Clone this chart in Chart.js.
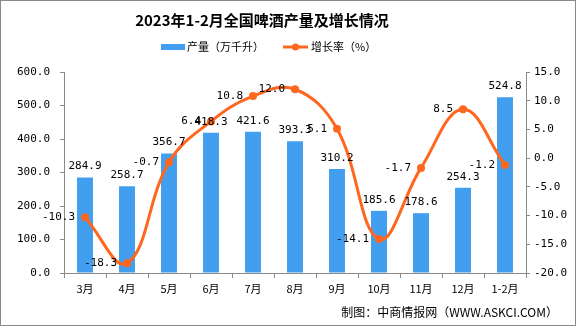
<!DOCTYPE html>
<html>
<head>
<meta charset="utf-8">
<script src="https://cdn.jsdelivr.net/npm/chart.js@4.4.0/dist/chart.umd.min.js"></script>
<style>
  html, body { margin: 0; padding: 0; background: #fff; }
  #wrap { width: 576px; height: 326px; }
</style>
</head>
<body>
<div id="wrap"><canvas id="myChart" width="576" height="326"></canvas></div>
<script>
'use strict';

// chart data
let months = ['3月', '4月', '5月', '6月', '7月', '8月', '9月', '10月', '11月', '12月', '1-2月'];
let output = [284.9, 258.7, 356.7, 418.3, 421.6, 393.3, 310.2, 185.6, 178.6, 254.3, 524.8]; // 万千升
let growth = [-10.3, -18.3, -0.7, 6.4, 10.8, 12.0, 5.1, -14.1, -1.7, 8.5, -1.2]; // %
let outputTicks = [0, 100, 200, 300, 400, 500, 600];
let growthTicks = [-20, -15, -10, -5, 0, 5, 10, 15];

let titleText = '2023年1-2月全国啤酒产量及增长情况';
let footerText = '制图：中商情报网（WWW.ASKCI.COM）';

// colours / fonts
let barBlue = '#429FEF';
let lineOrange = '#FF671F';
let axisGrey = '#8a8a8a';
let monoFont = '"DejaVu Sans Mono", monospace';
let cjkFont = '"Noto Sans CJK SC", sans-serif';

let ctx = document.getElementById('myChart').getContext('2d');

// numbers above bars and left of the line points
const valueLabels = {
  id: 'valueLabels',
  afterDatasetsDraw(chart) {
    let c = chart.ctx;
    c.save();
    c.font = '11px ' + monoFont;
    c.fillStyle = '#000';
    c.textBaseline = 'middle';

    c.textAlign = 'center';
    chart.getDatasetMeta(0).data.forEach((bar, i) => {
      c.fillText(output[i].toFixed(1), bar.x, bar.y - 11);
    });

    c.textAlign = 'right';
    chart.getDatasetMeta(1).data.forEach((pt, i) => {
      c.fillText(growth[i].toFixed(1), pt.x - 10, pt.y);
    });
    c.restore();
  }
};

// title, legend, footer and frame
const chrome = {
  id: 'chrome',
  afterDraw(chart) {
    let c = chart.ctx;
    c.save();

    c.fillStyle = '#000';
    c.textBaseline = 'middle';
    c.textAlign = 'center';
    c.font = 'bold 15px ' + cjkFont;
    c.fillText(titleText, 262, 20);

    // legend
    c.textAlign = 'left';
    c.font = '11px ' + cjkFont;
    c.fillStyle = barBlue;
    c.fillRect(161, 44, 24, 6);
    c.fillStyle = '#000';
    c.fillText(chart.data.datasets[0].label, 187, 47);

    c.strokeStyle = lineOrange;
    c.lineWidth = 3;
    c.beginPath();
    c.moveTo(283, 47);
    c.lineTo(308, 47);
    c.stroke();
    c.fillStyle = lineOrange;
    c.beginPath();
    c.arc(295.5, 47, 3.5, 0, Math.PI * 2);
    c.fill();
    c.fillStyle = '#000';
    c.fillText(chart.data.datasets[1].label, 311, 47);

    // footer
    c.textAlign = 'right';
    c.font = '12px ' + cjkFont;
    c.fillText(footerText, 558, 312);

    // frame
    c.strokeStyle = axisGrey;
    c.lineWidth = 1;
    c.strokeRect(0.5, 0.5, 575, 325);
    c.restore();
  }
};

let chartObject = {
  data: {
    labels: months,
    datasets: [{
      type: 'bar',
      label: '产量（万千升）',
      data: output,
      backgroundColor: barBlue,
      yAxisID: 'y',
      categoryPercentage: 1,
      barPercentage: 0.38,
      order: 1
    },
    {
      type: 'line',
      label: '增长率（%）',
      data: growth,
      borderColor: lineOrange,
      backgroundColor: lineOrange,
      borderWidth: 3,
      pointRadius: 4,
      pointBorderWidth: 0,
      tension: 0.4,
      yAxisID: 'y1',
      order: 0
    }]
  },
  options: {
    responsive: false,
    animation: false,
    layout: { padding: { top: 72, left: 0, right: 0, bottom: 0 } },
    plugins: {
      legend: { display: false },
      title: { display: false },
      tooltip: { enabled: false }
    },
    scales: {
      x: {
        grid: { drawOnChartArea: false, drawTicks: true, tickLength: 5, color: axisGrey },
        border: { color: axisGrey },
        ticks: { color: '#000', font: { family: cjkFont, size: 11 }, padding: 4, maxRotation: 0 },
        afterFit(scale) { scale.height = 53; }
      },
      y: {
        position: 'left',
        min: outputTicks[0],
        max: outputTicks[outputTicks.length - 1],
        grid: { drawOnChartArea: false, drawTicks: true, tickLength: 4, color: axisGrey },
        border: { color: axisGrey },
        ticks: {
          stepSize: outputTicks[1] - outputTicks[0],
          color: '#000',
          font: { family: monoFont, size: 11 },
          padding: 10,
          callback: (v) => v.toFixed(1)
        },
        afterFit(scale) { scale.width = 64; }
      },
      y1: {
        position: 'right',
        min: growthTicks[0],
        max: growthTicks[growthTicks.length - 1],
        grid: { drawOnChartArea: false, drawTicks: true, tickLength: 4, color: axisGrey },
        border: { color: axisGrey },
        ticks: {
          stepSize: growthTicks[1] - growthTicks[0],
          color: '#000',
          font: { family: monoFont, size: 11 },
          padding: 4,
          callback: (v) => v.toFixed(1)
        },
        afterFit(scale) { scale.width = 50; }
      }
    }
  },
  plugins: [valueLabels, chrome]
};

new Chart(ctx, chartObject); //eslint-disable-line
</script>
</body>
</html>
